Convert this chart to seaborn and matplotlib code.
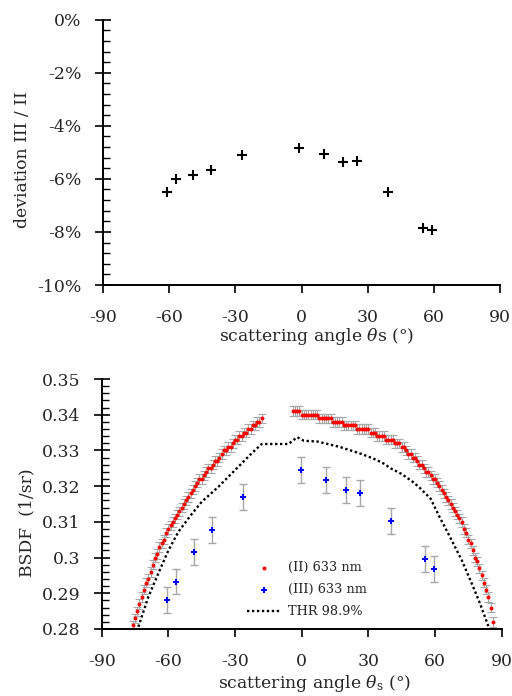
import matplotlib
matplotlib.use("Agg")
import matplotlib.pyplot as plt
import seaborn as sns
import pandas as pd
from matplotlib.ticker import MultipleLocator, FixedLocator, FixedFormatter

# ---------------- data ----------------
# top panel: deviation (III)/(II) in percent
dev_angle = [-61, -57, -49, -41, -27, -1, 10, 19, 25, 39, 55, 59]
dev_value = [-6.5, -6.0, -5.85, -5.65, -5.1, -4.82, -5.07, -5.35, -5.33, -6.48, -7.87, -7.92]

# bottom panel: (II) 633 nm, two branches
ii_angle_left = [-76, -75, -74, -73, -72, -71, -70, -69, -68, -67, -66, -65, -64, -63, -62,
                 -61, -60, -59, -58, -57, -56, -55, -54, -53, -52, -51, -50, -49, -48, -47,
                 -46, -45, -44, -43, -42, -41, -40, -39, -38, -37, -36, -35, -34, -33, -32,
                 -31, -30, -29, -28, -27, -26, -25, -24, -23, -22, -21, -20, -19, -18]
ii_value_left = [0.281, 0.283, 0.285, 0.287, 0.289, 0.291, 0.293, 0.294, 0.296, 0.298, 0.300,
                 0.301, 0.303, 0.304, 0.305, 0.307, 0.308, 0.309, 0.310, 0.311, 0.312, 0.313,
                 0.314, 0.315, 0.316, 0.317, 0.318, 0.319, 0.320, 0.321, 0.322, 0.322, 0.323,
                 0.324, 0.325, 0.325, 0.326, 0.327, 0.327, 0.328, 0.329, 0.330, 0.330, 0.331,
                 0.331, 0.332, 0.333, 0.333, 0.334, 0.334, 0.335, 0.335, 0.336, 0.336, 0.337,
                 0.337, 0.338, 0.338, 0.339]
ii_angle_right = [-4, -3, -2, -1, 0, 1, 2, 3, 4, 5, 6, 7, 8, 9, 10, 11, 12, 13, 14, 15, 16, 17,
                  18, 19, 20, 21, 22, 23, 24, 25, 26, 27, 28, 29, 30, 31, 32, 33, 34, 35, 36, 37,
                  38, 39, 40, 41, 42, 43, 44, 45, 46, 47, 48, 49, 50, 51, 52, 53, 54, 55, 56, 57,
                  58, 59, 60, 61, 62, 63, 64, 65, 66, 67, 68, 69, 70, 71, 72, 73, 74, 75, 76, 77,
                  78, 79, 80, 81, 82, 83, 84, 85, 86]
ii_value_right = [0.341, 0.341, 0.341, 0.341,
                  0.340, 0.340, 0.340, 0.340, 0.340, 0.340, 0.340, 0.340,
                  0.339, 0.339, 0.339, 0.339, 0.339, 0.339,
                  0.338, 0.338, 0.338, 0.338, 0.338,
                  0.337, 0.337, 0.337, 0.337, 0.337, 0.337,
                  0.336, 0.336, 0.336, 0.336, 0.336, 0.336,
                  0.335, 0.335, 0.335,
                  0.334, 0.334, 0.334, 0.334,
                  0.333, 0.333, 0.333, 0.333,
                  0.332, 0.332, 0.332,
                  0.331, 0.331,
                  0.330, 0.329, 0.329, 0.328, 0.328, 0.327, 0.326, 0.326, 0.325, 0.324,
                  0.324, 0.323, 0.322, 0.322, 0.321, 0.320, 0.319, 0.318, 0.317, 0.316,
                  0.315, 0.314, 0.313, 0.312, 0.311, 0.310, 0.308, 0.307, 0.305, 0.304,
                  0.302, 0.300, 0.299, 0.297, 0.295, 0.293, 0.291, 0.289, 0.286, 0.282]
ii_err = 0.0013

# bottom panel: (III) 633 nm
iii_angle = [-60.6, -56.7, -48.6, -40.4, -26.3, -0.3, 10.8, 19.9, 26.1, 40.3, 55.6, 59.7]
iii_value = [0.2881, 0.2933, 0.3015, 0.3077, 0.3170, 0.3246, 0.3217, 0.3189, 0.3181, 0.3103,
             0.2997, 0.2969]
iii_err = 0.0036

# bottom panel: THR 98.9 %
thr_angle = [-73.5, -69, -64.5, -60, -55.5, -50, -45, -37.5, -30, -22.5, -18, -6, -2, 1, 7,
             17, 22, 26, 32, 36.7, 40, 45, 50, 53, 58, 62, 66.7, 72, 76.5, 80.2, 84]
thr_value = [0.2806, 0.2890, 0.2956, 0.3020, 0.3072, 0.3118, 0.3156, 0.3198, 0.3245, 0.3292,
             0.3318, 0.3318, 0.3337, 0.3327, 0.3325, 0.3310, 0.3300, 0.3292, 0.3278, 0.3264,
             0.3250, 0.3234, 0.3212, 0.3196, 0.3165, 0.3114, 0.3058, 0.2993, 0.2928, 0.2872,
             0.2808]

x_ticks = [-90, -60, -30, 0, 30, 60, 90]
x_ticklabels = ["-90", "-60", "-30", "0", "30", "60", "90"]
top_yticks = [-10, -8, -6, -4, -2, 0]
top_yticklabels = ["-10%", "-8%", "-6%", "-4%", "-2%", "0%"]
bot_yticks = [0.28, 0.29, 0.30, 0.31, 0.32, 0.33, 0.34, 0.35]
bot_yticklabels = ["0.28", "0.29", "0.3", "0.31", "0.32", "0.33", "0.34", "0.35"]

# ---------------- style ----------------
sns.set_theme(style="ticks")
plt.rcParams["font.family"] = ["DejaVu Serif"]
plt.rcParams["mathtext.fontset"] = "dejavuserif"
plt.rcParams["axes.unicode_minus"] = False

W, H = 512, 696
fig = plt.figure(figsize=(W / 100, H / 100), dpi=100)
fig.patch.set_facecolor("white")

def px_axes(l, r, t, b):
    return fig.add_axes([l / W, 1 - b / H, (r - l) / W, (b - t) / H])

FS = 12.4

def style_axes(ax):
    for s in ["top", "right"]:
        ax.spines[s].set_visible(False)
    for s in ["left", "bottom"]:
        ax.spines[s].set_color("black")
        ax.spines[s].set_linewidth(1.4)
    ax.set_facecolor("white")
    ax.xaxis.set_major_locator(FixedLocator(x_ticks))
    ax.xaxis.set_major_formatter(FixedFormatter(x_ticklabels))
    ax.set_xlim(-90, 90)
    ax.tick_params(axis="x", which="major", direction="out", length=6, width=1.2,
                   color="black", labelsize=FS, pad=11)
    ax.tick_params(axis="y", which="major", direction="inout", length=11, width=1.2,
                   color="black", labelsize=FS, pad=10)
    ax.tick_params(axis="y", which="minor", direction="in", length=5, width=1.0,
                   color="black")
    ax.tick_params(axis="x", which="minor", bottom=False)
    ax.grid(False)

# ---------------- top panel ----------------
ax1 = px_axes(103, 500, 19.7, 285)
df_dev = pd.DataFrame({"angle": dev_angle, "dev": dev_value})
sns.scatterplot(data=df_dev, x="angle", y="dev", ax=ax1, marker="+", color="black",
                s=55, linewidth=1.5, legend=False)
ax1.set_ylim(-10, 0)
ax1.yaxis.set_major_locator(FixedLocator(top_yticks))
ax1.yaxis.set_major_formatter(FixedFormatter(top_yticklabels))
ax1.yaxis.set_minor_locator(MultipleLocator(0.4))
style_axes(ax1)
ax1.set_xlabel(r"scattering angle $\theta$s (°)", fontsize=FS)
ax1.set_ylabel("deviation III / II", fontsize=FS)
ax1.xaxis.set_label_coords(0.539, -0.196)
ax1.xaxis.label.set_va("center")
ax1.yaxis.set_label_coords(-0.204, 0.471)
ax1.yaxis.label.set_va("center")

# ---------------- bottom panel ----------------
ax2 = px_axes(101.7, 501.7, 379, 629)
grey = "#a8a8a8"
df_l = pd.DataFrame({"angle": ii_angle_left, "bsdf": ii_value_left})
df_r = pd.DataFrame({"angle": ii_angle_right, "bsdf": ii_value_right})
df_iii = pd.DataFrame({"angle": iii_angle, "bsdf": iii_value})
df_thr = pd.DataFrame({"angle": thr_angle, "bsdf": thr_value})

for d in (df_l, df_r):
    ax2.errorbar(d["angle"], d["bsdf"], yerr=ii_err, fmt="none", ecolor=grey,
                 elinewidth=0.8, capsize=2.6, capthick=0.8, zorder=2)
ax2.errorbar(df_iii["angle"], df_iii["bsdf"], yerr=iii_err, fmt="none", ecolor=grey,
             elinewidth=1.0, capsize=3.2, capthick=1.0, zorder=2)

sns.scatterplot(data=df_l, x="angle", y="bsdf", ax=ax2, marker="o", color="red", s=8,
                linewidth=0, label="(II) 633 nm", zorder=3)
sns.scatterplot(data=df_r, x="angle", y="bsdf", ax=ax2, marker="o", color="red", s=8,
                linewidth=0, zorder=3)
sns.scatterplot(data=df_iii, x="angle", y="bsdf", ax=ax2, marker="P", color="blue", s=18,
                linewidth=0, label="(III) 633 nm", zorder=3)
sns.lineplot(data=df_thr, x="angle", y="bsdf", ax=ax2, sort=False, estimator=None,
             color="black", linestyle=(0, (1, 1.1)), linewidth=1.7, label="THR 98.9%",
             zorder=2)

ax2.set_ylim(0.28, 0.35)
ax2.yaxis.set_major_locator(FixedLocator(bot_yticks))
ax2.yaxis.set_major_formatter(FixedFormatter(bot_yticklabels))
ax2.yaxis.set_minor_locator(MultipleLocator(0.002))
style_axes(ax2)
ax2.set_xlabel(r"scattering angle $\theta_{\rm s}$ (°)", fontsize=FS)
ax2.set_ylabel("BSDF  (1/sr)", fontsize=FS)
ax2.xaxis.set_label_coords(0.532, -0.22)
ax2.xaxis.label.set_va("center")
ax2.yaxis.set_label_coords(-0.187, 0.424)
ax2.yaxis.label.set_va("center")

handles, labels = ax2.get_legend_handles_labels()
leg = ax2.legend(handles, labels, loc="upper left", bbox_to_anchor=(0.363, 0.272),
                 frameon=False, fontsize=9.3, handlelength=2.6, handletextpad=0.6,
                 labelspacing=0.7, borderpad=0, borderaxespad=0, markerscale=1.0)

fig.savefig("out.png", dpi=100, facecolor="white")
